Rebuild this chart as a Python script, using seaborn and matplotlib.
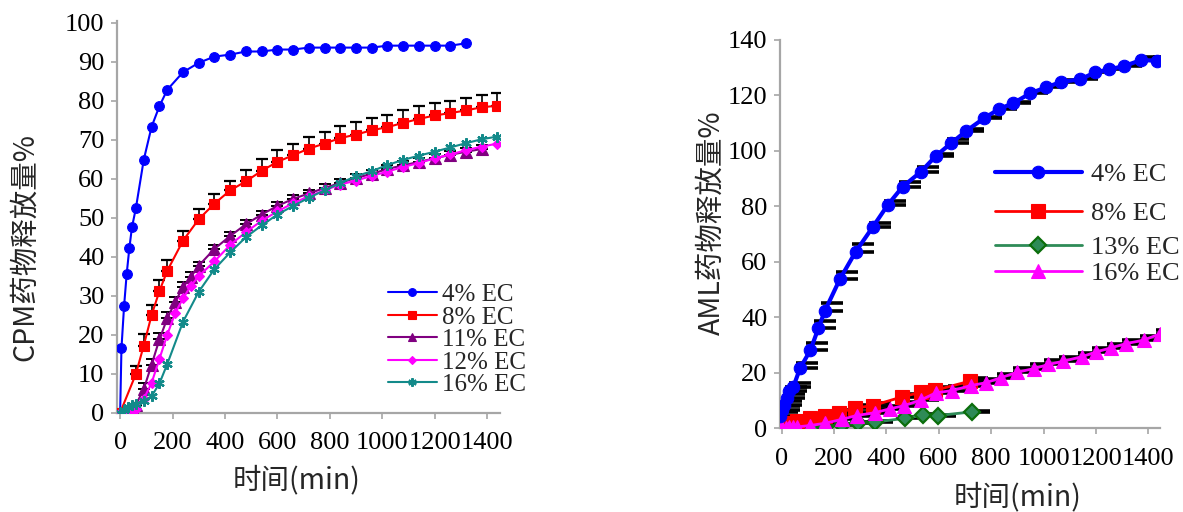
import matplotlib
matplotlib.use("Agg")
import matplotlib.pyplot as plt
import matplotlib.transforms as mtransforms
import seaborn as sns

# ---------------- left panel: CPM release (%) ----------------
cpm_t_4 = [0, 5, 15, 25, 35, 45, 60, 90, 120, 150, 180, 240, 300, 360, 420, 480, 540, 600,
           660, 720, 780, 840, 900, 960, 1020, 1080, 1140, 1200, 1260, 1320]
cpm_v_4 = [0, 16.5, 27.3, 35.6, 42.1, 47.5, 52.4, 64.8, 73.3, 78.6, 82.8, 87.3, 89.7, 91.3, 91.8,
           92.6, 92.6, 93.1, 93.1, 93.6, 93.6, 93.6, 93.6, 93.6, 94.1, 94.1, 94.1, 94.1, 94.1, 94.7]

cpm_t_8 = [0, 60, 90, 120, 150, 180, 240, 300, 360, 420, 480, 540, 600, 660, 720, 780, 840,
           900, 960, 1020, 1080, 1140, 1200, 1260, 1320, 1380, 1440]
cpm_v_8 = [0, 9.9, 17.2, 25, 31.2, 36.4, 44.1, 49.6, 53.6, 57, 59.3, 62, 64.3, 66, 67.7, 69,
           70.4, 71.3, 72.4, 73.2, 74.3, 75.3, 76.2, 76.8, 77.5, 78.3, 78.7]
cpm_e_8 = [0, 2, 3, 2.7, 2.7, 2.7, 2.5, 2.5, 2.5, 2.5, 3, 3, 3, 3, 3, 3, 3, 3.2, 3.2, 3.2,
           3.2, 3.2, 3.2, 3.2, 3.2, 3.2, 3.2]

cpm_t_11 = [0, 15, 30, 45, 60, 90, 120, 150, 180, 210, 240, 270, 300, 360, 420, 480, 540, 600,
            660, 720, 780, 840, 900, 960, 1020, 1080, 1140, 1200, 1260, 1320, 1380]
cpm_v_11 = [0, 0.5, 1, 1.5, 2, 6, 12.3, 18.8, 24.2, 28.4, 32.2, 34.8, 37.7, 42, 45.3, 48.3,
            50.8, 53, 54.8, 56.2, 57.6, 58.9, 60.2, 61.2, 62.5, 63.4, 64.3, 65.2, 66.1, 66.9, 67.6]
cpm_e_11 = [0, 0, 0, 0, 0, 1.5, 1.5, 1.5, 1.5, 1.2, 1.2, 1.2, 1.0, 1.0, 1.0, 1.0, 1.0, 1.0,
            1.0, 1.0, 1.0, 1.0, 1.0, 1.0, 1.0, 1.0, 1.0, 1.0, 1.0, 1.0, 1.0]

cpm_t_12 = [0, 15, 30, 45, 60, 90, 120, 150, 180, 210, 240, 270, 300, 360, 420, 480, 540, 600,
            660, 720, 780, 840, 900, 960, 1020, 1080, 1140, 1200, 1260, 1320, 1380, 1440]
cpm_v_12 = [0, 0.3, 0.5, 0.5, 1, 3.5, 7.6, 13.8, 20, 25.5, 29.3, 32.5, 35, 38.8, 43, 46.3,
            49.2, 51.6, 53.7, 55.5, 57, 58.5, 59.5, 60.7, 61.8, 63, 64, 65.2, 66.2, 67.3, 68.2, 69]

cpm_t_16 = [0, 15, 30, 45, 60, 90, 120, 150, 180, 240, 300, 360, 420, 480, 540, 600, 660, 720,
            780, 840, 900, 960, 1020, 1080, 1140, 1200, 1260, 1320, 1380, 1440]
cpm_v_16 = [0, 0.8, 1.5, 2, 2.2, 3, 4.2, 7.5, 12.5, 23.3, 31, 36.8, 41.1, 45, 48, 50.8, 53,
            55.1, 57, 58.9, 60.6, 61.9, 63.5, 64.8, 65.9, 66.9, 68, 69.1, 70.1, 70.8]

# ---------------- right panel: AML release (%) ----------------
aml_t_4 = [-5, 0, 10, 20, 30, 45, 70, 110, 140, 165, 222, 283, 349, 405, 462, 532, 589, 646,
           705, 773, 830, 884, 950, 1009, 1068, 1140, 1197, 1251, 1308, 1374, 1433]
aml_v_4 = [4.5, 6.5, 8.5, 11, 13.5, 15, 21.6, 28.2, 36, 42.3, 53.7, 63.7, 72.7, 80.5, 87.1,
           92.5, 98.2, 102.7, 107.2, 111.8, 115.1, 117.2, 120.8, 122.9, 124.9, 125.8, 128.3,
           129.4, 130.6, 132.8, 132.5]
aml_e_4 = [1.5, 1.5, 1.5, 1.5, 1.5, 1.5, 1.8, 2.4, 2.8, 3.0, 2.8, 2.7, 1.4, 1.5, 1.6, 1.8,
           0.7, 1.6, 0.6, 0.6, 0.6, 0.6, 0.6, 0.6, 0.6, 0.6, 0.6, 0.6, 0.6, 1.2, 1.2]

aml_t_8 = [-5, 15, 30, 60, 108, 165, 218, 279, 349, 459, 532, 586, 719]
aml_v_8 = [1.2, 1.5, 1.8, 2.5, 3.6, 4.4, 5.6, 7.3, 8.2, 11.3, 13, 13.7, 17]
aml_e_8 = [0.8, 0.8, 0.8, 0.8, 1.0, 1.0, 1.0, 1.0, 1.0, 1.2, 1.2, 1.2, 1.2]

aml_t_13 = [0, 30, 60, 120, 165, 230, 290, 355, 470, 540, 597, 725]
aml_v_13 = [0, 0.2, 0.4, 0.5, 0.6, 1.2, 2, 2.2, 3.6, 4.7, 4.6, 5.9]
aml_e_13 = [0.3, 0.3, 0.3, 0.3, 0.3, 0.3, 0.3, 0.3, 0.3, 0.3, 0.3, 0.3]

aml_t_16 = [-5, 0, 15, 30, 45, 60, 108, 165, 229, 286, 355, 412, 469, 532, 589, 652, 722, 779,
            836, 899, 962, 1019, 1076, 1146, 1200, 1257, 1314, 1383, 1443]
aml_v_16 = [0, 0, 0, 0.3, 0.5, 0.5, 1, 1.8, 3.2, 4.6, 5.6, 7, 8.2, 10.2, 12.8, 13.6, 15.4,
            16.4, 18.2, 20.2, 21.5, 23, 24.2, 25.8, 27.5, 29, 30.5, 31.8, 34]
aml_e_16 = [0.5, 0.5, 0.5, 0.5, 0.5, 0.5, 1.0, 1.0, 1.2, 1.2, 1.2, 1.2, 1.2, 1.5, 1.5, 1.5,
            1.5, 1.5, 1.5, 1.5, 1.5, 1.5, 1.5, 1.5, 1.5, 1.5, 1.5, 1.5, 1.5]

cpm_ticks_x = [0, 200, 400, 600, 800, 1000, 1200, 1400]
cpm_ticks_y = [0, 10, 20, 30, 40, 50, 60, 70, 80, 90, 100]
aml_ticks_y = [0, 20, 40, 60, 80, 100, 120, 140]

sns.set_style("ticks")
plt.rcParams['font.family'] = ['Liberation Serif', 'Noto Sans CJK SC', 'DejaVu Sans']
CJK = ['Noto Sans CJK SC', 'DejaVu Sans']

fig = plt.figure(figsize=(11.83, 5.12), dpi=100)
axL = fig.add_axes([0.0989, 0.194, 0.3238, 0.7656])
axR = fig.add_axes([0.6594, 0.1635, 0.3212, 0.7584])


def series(ax, t, v, color, marker, ms, lw, label, mec=None, mew=0.8):
    sns.lineplot(x=t, y=v, ax=ax, color=color, marker=marker, markersize=ms, linewidth=lw,
                 markeredgecolor=mec or color, markerfacecolor=color, markeredgewidth=mew,
                 label=label, estimator=None, sort=False, zorder=3)


def caps(ax, t, v, err, size, thick, dx=0, z=2, elw=1.2):
    tr = mtransforms.offset_copy(ax.transData, fig=fig, x=dx, y=0, units='dots')
    ax.errorbar(t, v, yerr=[[0] * len(err), err], fmt='none', ecolor='black',
                elinewidth=elw, capsize=size, capthick=thick, transform=tr, zorder=z)


# left
caps(axL, cpm_t_8, cpm_v_8, cpm_e_8, 4.5, 1.6)
caps(axL, cpm_t_11, cpm_v_11, cpm_e_11, 4.0, 1.4)
series(axL, cpm_t_4, cpm_v_4, '#0000FF', 'o', 7, 1.5, '4% EC')
series(axL, cpm_t_8, cpm_v_8, '#FF0000', 's', 7, 1.5, '8% EC')
series(axL, cpm_t_11, cpm_v_11, '#800080', '^', 8, 1.5, '11% EC')
series(axL, cpm_t_12, cpm_v_12, '#FF00FF', 'D', 5.5, 1.5, '12% EC')
series(axL, cpm_t_16, cpm_v_16, '#138A8A', (6, 2, 0), 7.5, 1.5, '16% EC', mec='#138A8A', mew=1.6)

# right
caps(axR, aml_t_4, aml_v_4, aml_e_4, 8, 2.6, dx=7, elw=0)
caps(axR, aml_t_8, aml_v_8, aml_e_8, 8, 2.6, dx=7, elw=0)
caps(axR, aml_t_13, aml_v_13, aml_e_13, 8, 2.6, dx=7, elw=0)
caps(axR, aml_t_16, aml_v_16, aml_e_16, 8, 2.6, dx=7, elw=0)
series(axR, aml_t_13, aml_v_13, '#2E8B57', 'D', 8.5, 2, '13% EC', mec='#0B6E0B', mew=1.6)
series(axR, aml_t_8, aml_v_8, '#FF0000', 's', 9.5, 2, '8% EC')
series(axR, aml_t_16, aml_v_16, '#FF00FF', '^', 10.5, 2, '16% EC')
series(axR, aml_t_4, aml_v_4, '#0000FF', 'o', 9, 3, '4% EC')

# axes styling
axL.set_xlim(-12, 1450)
axL.set_ylim(0, 100.5)
axL.set_xticks(cpm_ticks_x)
axL.set_yticks(cpm_ticks_y)
axR.set_xlim(-6, 1445)
axR.set_ylim(0, 140)
axR.set_xticks(cpm_ticks_x)
axR.set_yticks(aml_ticks_y)

for ax in (axL, axR):
    sns.despine(ax=ax)
    for s in ('left', 'bottom'):
        ax.spines[s].set_color('#A6A6A6')
        ax.spines[s].set_linewidth(1.6)
    ax.tick_params(axis='both', labelsize=19, colors='black', color='#A6A6A6',
                   length=4, width=1.2)
    ax.tick_params(axis='y', pad=5)
    ax.tick_params(axis='x', pad=10)

axL.set_xlabel('时间(min)', fontsize=20.5, family=CJK)
axL.set_ylabel('CPM药物释放量%', fontsize=20.5, family=CJK)
axL.xaxis.set_label_coords(0.469, -0.172)
axL.yaxis.set_label_coords(-0.24, 0.423)
axR.set_xlabel('时间(min)', fontsize=20.5, family=CJK)
axR.set_ylabel('AML药物释放量%', fontsize=20.5, family=CJK)
axR.xaxis.set_label_coords(0.626, -0.177)
axR.yaxis.set_label_coords(-0.179, 0.529)
for ax in (axL, axR):
    ax.xaxis.label.set_va('center')
    ax.yaxis.label.set_va('center')

# legends
hL, lL = axL.get_legend_handles_labels()
axL.legend(hL, lL, loc='upper left', bbox_to_anchor=(0.328, 0.446), bbox_transform=fig.transFigure,
           frameon=False, fontsize=18, borderpad=0, borderaxespad=0, labelspacing=0.0,
           handlelength=1.95, handletextpad=0.2, markerscale=0.8)

hR, lR = axR.get_legend_handles_labels()
hd = dict(zip(lR, hR))
top_keys = ['4% EC', '8% EC']
low_keys = ['13% EC', '16% EC']
legA = axR.legend([hd[k] for k in top_keys], top_keys, loc='upper left',
                  bbox_to_anchor=(0.841, 0.682), bbox_transform=fig.transFigure, frameon=False,
                  fontsize=19, borderpad=0, borderaxespad=0, labelspacing=0.59,
                  handlelength=3.3, handletextpad=0.35)
axR.add_artist(legA)
axR.legend([hd[k] for k in low_keys], low_keys, loc='upper left',
           bbox_to_anchor=(0.841, 0.5395), bbox_transform=fig.transFigure, frameon=False,
           fontsize=19, borderpad=0, borderaxespad=0, labelspacing=0.1,
           handlelength=3.3, handletextpad=0.35)

fig.savefig('out.png', dpi=100)
